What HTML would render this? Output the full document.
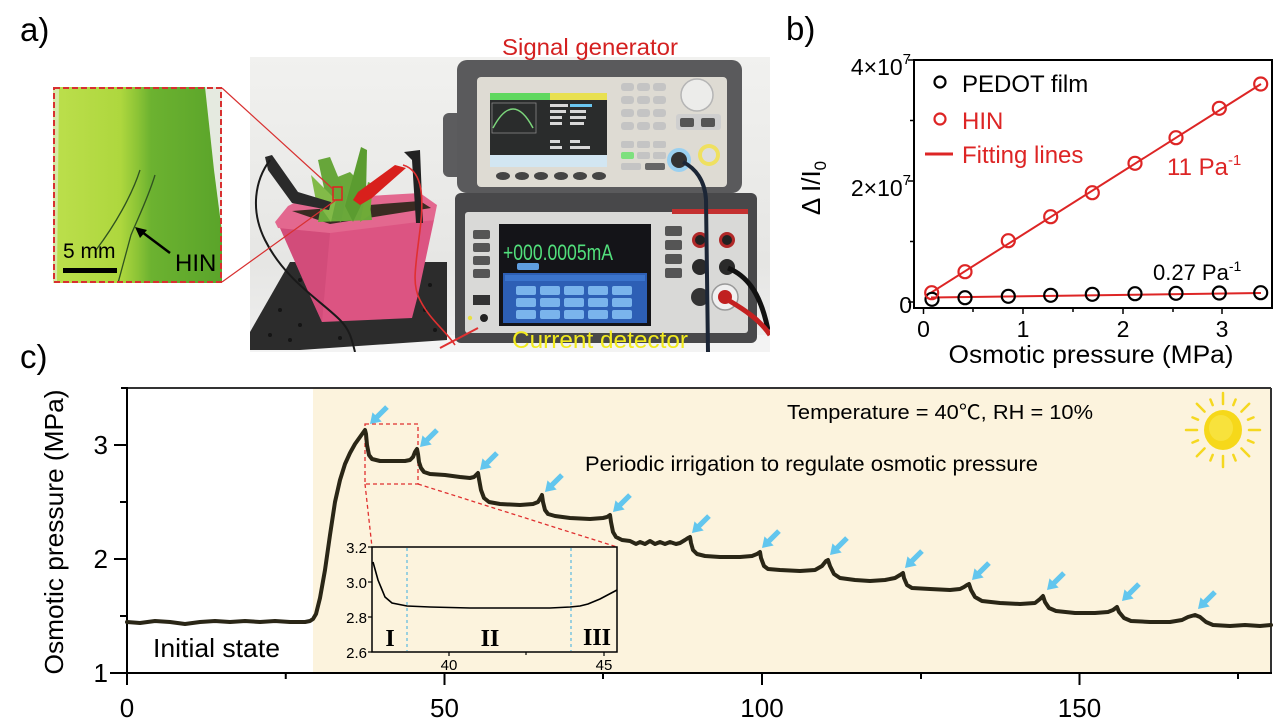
<!DOCTYPE html>
<html><head><meta charset="utf-8"><style>
html,body{margin:0;padding:0;background:#fff;}
svg{display:block;}
text{font-family:"Liberation Sans","Noto Sans CJK SC",sans-serif;}
</style></head><body>
<svg width="1285" height="728" viewBox="0 0 1285 728" xmlns="http://www.w3.org/2000/svg">
<defs>
<linearGradient id="leafg" x1="53" y1="0" x2="222" y2="0" gradientUnits="userSpaceOnUse">
<stop offset="0" stop-color="#bcdf4c"/><stop offset="0.4" stop-color="#aed73e"/><stop offset="0.5" stop-color="#8cc436"/><stop offset="0.58" stop-color="#6cb230"/><stop offset="1" stop-color="#5aa42a"/>
</linearGradient>
<linearGradient id="wallg" x1="0" y1="57" x2="0" y2="352" gradientUnits="userSpaceOnUse">
<stop offset="0" stop-color="#f1f1ef"/><stop offset="0.7" stop-color="#e6e6e4"/><stop offset="1" stop-color="#efefef"/>
</linearGradient>
<clipPath id="photoclip"><rect x="250" y="57" width="520" height="295"/></clipPath>
<clipPath id="leafclip"><rect x="53" y="87" width="169" height="196"/></clipPath>
</defs>

<!-- Panel labels -->
<text x="20" y="41" font-size="33">a)</text>
<text x="786" y="40" font-size="33">b)</text>
<text x="20" y="368" font-size="33">c)</text>

<!-- Leaf inset -->
<g clip-path="url(#leafclip)">
<rect x="53" y="87" width="169" height="196" fill="url(#leafg)"/>
<polygon points="205,87 222,87 222,232 214,170" fill="#e5eae0"/>
<polygon points="53,87 59,87 57,283 53,283" fill="#d6e9a8"/>
<path d="M140,170 C132,195 115,225 96,250" stroke="#2f5220" stroke-width="1.3" fill="none"/>
<path d="M155,175 C148,198 138,218 131,235 L118,283" stroke="#2f5220" stroke-width="1.3" fill="none"/>
</g>
<rect x="54" y="88" width="167" height="194" fill="none" stroke="#d83030" stroke-width="2" stroke-dasharray="6,3"/>
<line x1="170" y1="253" x2="142" y2="232" stroke="#000" stroke-width="2.5"/>
<polygon points="135,227 147,230 140,238" fill="#000"/>
<text x="63" y="258" font-size="21">5 mm</text>
<rect x="63" y="268" width="54" height="5" fill="#000"/>
<text x="175" y="271" font-size="24">HIN</text>

<!-- Photo -->
<g clip-path="url(#photoclip)">
<rect x="250" y="57" width="520" height="295" fill="url(#wallg)"/>
<rect x="250" y="335" width="520" height="17" fill="#f3f3f3"/>
<!-- breadboard -->
<polygon points="290,262 447,262 447,340 300,350 250,350 250,332" fill="#2c2c2c"/>
<g fill="#151515">
<circle cx="300" cy="280" r="2"/><circle cx="320" cy="295" r="2"/><circle cx="280" cy="310" r="2"/><circle cx="300" cy="325" r="2"/><circle cx="270" cy="335" r="2"/><circle cx="430" cy="285" r="2"/><circle cx="425" cy="310" r="2"/><circle cx="435" cy="330" r="2"/><circle cx="290" cy="340" r="2"/><circle cx="340" cy="338" r="2"/>
</g>
<!-- pot -->
<polygon points="280,228 434,220 418,295 412,318 322,322 312,300" fill="#dc5482"/>
<polygon points="280,228 330,233 322,322 312,300" fill="#d24c7a"/>
<polygon points="275,222 288,206 300,200 420,193 437,205 434,220 330,233 278,228" fill="#e3688f"/>
<polygon points="292,211 420,201 431,208 330,224" fill="#3a2b22"/>
<!-- leaves -->
<polygon points="318,222 372,220 368,190 350,172 325,182" fill="#6aa83a"/>
<polygon points="318,160 330,157 346,196 341,222 330,216" fill="#67a63a"/>
<polygon points="361,147 367,150 366,195 353,222 345,206" fill="#5b9c30"/>
<polygon points="311,175 336,200 331,222 316,201" fill="#82ba48"/>
<polygon points="368,182 373,184 370,215 360,222" fill="#6fab38"/>
<!-- clips / posts -->
<polygon points="404,152 420,150 423,223 416,223 412,160" fill="#222"/>
<polygon points="265,157 272,155 298,192 331,202 329,210 292,203 268,170" fill="#2a2a2a"/>
<polygon points="353,200 358,192 395,165 406,168 372,198 360,205" fill="#d8201c"/>
<rect x="333" y="187" width="9" height="13" fill="none" stroke="#e02020" stroke-width="1.5"/>
<path d="M403,165 C420,170 425,190 420,230 C415,270 412,285 420,300 C430,320 445,330 455,345" stroke="#e03030" stroke-width="1.6" fill="none"/>
<path d="M270,160 C255,180 250,210 265,240 C285,280 320,300 340,320 C350,330 352,340 355,352" stroke="#1a1a1a" stroke-width="2" fill="none"/>
<!-- signal generator -->
<rect x="443" y="113" width="20" height="64" rx="6" fill="#5c5c5e"/>
<rect x="457" y="60" width="285" height="133" rx="10" fill="#5a5a5c"/>
<rect x="477" y="77" width="250" height="110" rx="4" fill="#dedbd3"/>
<rect x="490" y="93" width="117" height="74" fill="#2a2c2c"/>
<rect x="490" y="93" width="60" height="7" fill="#5fd85f"/>
<rect x="550" y="93" width="57" height="7" fill="#e8e050"/>
<rect x="492" y="103" width="44" height="30" fill="none" stroke="#888" stroke-width="0.8"/>
<path d="M493,128 Q513,90 533,128" stroke="#7cd67c" stroke-width="1.5" fill="none"/>
<g fill="#d8d8d8"><rect x="550" y="104" width="18" height="3"/><rect x="570" y="104" width="22" height="3" fill="#6ac6f0"/><rect x="550" y="110" width="16" height="3"/><rect x="570" y="110" width="16" height="3"/><rect x="550" y="116" width="12" height="3"/><rect x="570" y="116" width="16" height="3"/><rect x="550" y="122" width="12" height="3"/><rect x="570" y="122" width="14" height="3"/><rect x="550" y="140" width="10" height="3"/><rect x="570" y="140" width="10" height="3"/><rect x="550" y="146" width="12" height="3"/><rect x="570" y="146" width="20" height="3"/></g>
<rect x="490" y="155" width="117" height="12" fill="#d2e6f2"/>
<g fill="#c4c4c4">
<rect x="621" y="83" width="13" height="8" rx="3"/><rect x="637" y="83" width="13" height="8" rx="3"/><rect x="653" y="83" width="13" height="8" rx="3"/>
<rect x="621" y="96" width="13" height="8" rx="3"/><rect x="637" y="96" width="13" height="8" rx="3"/><rect x="653" y="96" width="13" height="8" rx="3"/>
<rect x="621" y="109" width="13" height="8" rx="3"/><rect x="637" y="109" width="13" height="8" rx="3"/><rect x="653" y="109" width="13" height="8" rx="3"/>
<rect x="621" y="122" width="13" height="8" rx="3"/><rect x="637" y="122" width="13" height="8" rx="3"/><rect x="653" y="122" width="13" height="8" rx="3"/>
<rect x="621" y="141" width="13" height="7" rx="2"/><rect x="637" y="141" width="13" height="7" rx="2"/><rect x="653" y="141" width="13" height="7" rx="2"/>
<rect x="621" y="152" width="13" height="7" rx="2" fill="#7ee07e"/><rect x="637" y="152" width="13" height="7" rx="2"/><rect x="653" y="152" width="13" height="7" rx="2"/>
<rect x="621" y="163" width="20" height="7" rx="2"/><rect x="645" y="163" width="20" height="7" rx="2" fill="#666"/>
</g>
<rect x="676" y="114" width="45" height="16" rx="3" fill="#cfcfcf"/>
<rect x="680" y="118" width="14" height="9" rx="2" fill="#555"/><rect x="701" y="118" width="14" height="9" rx="2" fill="#555"/>
<circle cx="697" cy="95" r="16" fill="#ececea" stroke="#b5b5b5" stroke-width="1.5"/>
<circle cx="679" cy="160" r="12" fill="#9ad0f0"/><circle cx="679" cy="160" r="8" fill="#333"/>
<circle cx="709" cy="155" r="11" fill="#efe060"/><circle cx="709" cy="155" r="7" fill="#ddd"/>
<g fill="#454545"><ellipse cx="503" cy="176" rx="7" ry="4"/><ellipse cx="522" cy="176" rx="7" ry="4"/><ellipse cx="541" cy="176" rx="7" ry="4"/><ellipse cx="561" cy="176" rx="7" ry="4"/><ellipse cx="580" cy="176" rx="7" ry="4"/><ellipse cx="599" cy="176" rx="7" ry="4"/></g>
<!-- current detector -->
<rect x="455" y="193" width="302" height="150" rx="6" fill="#48484a"/>
<rect x="465" y="212" width="283" height="121" rx="3" fill="#d9d9d7"/>
<rect x="672" y="209" width="76" height="5" fill="#c43030"/>
<rect x="499" y="224" width="152" height="102" fill="#141418"/>
<text x="503" y="260" font-size="22" fill="#52e07c" textLength="110" lengthAdjust="spacingAndGlyphs">+000.0005mA</text>
<rect x="517" y="263" width="22" height="7" rx="2" fill="#5f9ee0"/>
<rect x="503" y="273" width="144" height="50" fill="#2d5fb5"/>
<rect x="505" y="275" width="140" height="6" fill="#3b74cc"/>
<g fill="#7ab4ec">
<rect x="516" y="286" width="20" height="9" rx="2"/><rect x="540" y="286" width="20" height="9" rx="2"/><rect x="564" y="286" width="20" height="9" rx="2"/><rect x="588" y="286" width="20" height="9" rx="2"/><rect x="612" y="286" width="20" height="9" rx="2"/>
<rect x="516" y="298" width="20" height="9" rx="2"/><rect x="540" y="298" width="20" height="9" rx="2"/><rect x="564" y="298" width="20" height="9" rx="2"/><rect x="588" y="298" width="20" height="9" rx="2"/><rect x="612" y="298" width="20" height="9" rx="2"/>
<rect x="516" y="310" width="20" height="9" rx="2"/><rect x="540" y="310" width="20" height="9" rx="2"/><rect x="564" y="310" width="20" height="9" rx="2"/><rect x="588" y="310" width="20" height="9" rx="2"/><rect x="612" y="310" width="20" height="9" rx="2"/>
</g>
<g fill="#555"><rect x="473" y="230" width="17" height="9" rx="2"/><rect x="473" y="243" width="17" height="9" rx="2"/><rect x="473" y="256" width="17" height="9" rx="2"/><rect x="473" y="269" width="17" height="9" rx="2"/>
<rect x="665" y="226" width="17" height="10" rx="2"/><rect x="665" y="240" width="17" height="10" rx="2"/><rect x="665" y="254" width="17" height="10" rx="2"/><rect x="665" y="268" width="17" height="10" rx="2"/></g>
<rect x="473" y="295" width="17" height="10" fill="#333"/>
<circle cx="484" cy="318" r="4" fill="#222"/><circle cx="470" cy="318" r="2.2" fill="#e8e040"/>
<circle cx="700" cy="240" r="8" fill="#b02828"/><circle cx="700" cy="240" r="5" fill="#222"/>
<circle cx="727" cy="240" r="8" fill="#b02828"/><circle cx="727" cy="240" r="5" fill="#222"/>
<circle cx="700" cy="267" r="8" fill="#2a2a2a"/><circle cx="727" cy="267" r="8" fill="#2a2a2a"/>
<circle cx="700" cy="297" r="9" fill="#333"/>
<circle cx="725" cy="297" r="13" fill="#f0f0f0" stroke="#999" stroke-width="1.5"/><circle cx="725" cy="297" r="7" fill="#c02020"/>
<path d="M683,162 C695,168 705,180 706,200 L708,352" stroke="#1c2636" stroke-width="4" fill="none"/>
<path d="M728,268 C745,275 760,290 768,330" stroke="#111" stroke-width="5" fill="none"/>
<path d="M728,300 C745,310 760,320 770,335" stroke="#c42020" stroke-width="5" fill="none"/>
<path d="M440,348 L478,328" stroke="#e03030" stroke-width="2" fill="none"/>
</g>
<line x1="222" y1="88" x2="334" y2="190" stroke="#d83030" stroke-width="1.2"/>
<line x1="222" y1="282" x2="336" y2="200" stroke="#d83030" stroke-width="1.2"/>
<text x="502" y="55" font-size="23" fill="#d42020" textLength="176" lengthAdjust="spacingAndGlyphs">Signal generator</text>
<text x="512" y="348" font-size="24" fill="#f2ea1e" textLength="176" lengthAdjust="spacingAndGlyphs">Current detector</text>

<!-- Panel b -->
<rect x="914" y="60" width="358" height="248" fill="none" stroke="#000" stroke-width="2"/>
<g stroke="#000" stroke-width="1.5">
<line x1="908" y1="302" x2="914" y2="302"/><line x1="908" y1="181" x2="914" y2="181"/><line x1="908" y1="60" x2="914" y2="60"/>
<line x1="910" y1="241.5" x2="914" y2="241.5"/><line x1="910" y1="120.5" x2="914" y2="120.5"/>
<line x1="923.5" y1="308" x2="923.5" y2="314"/><line x1="1023" y1="308" x2="1023" y2="314"/><line x1="1123" y1="308" x2="1123" y2="314"/><line x1="1222" y1="308" x2="1222" y2="314"/>
<line x1="973" y1="308" x2="973" y2="312"/><line x1="1073" y1="308" x2="1073" y2="312"/><line x1="1173" y1="308" x2="1173" y2="312"/>
</g>
<text x="911" y="75" font-size="23" text-anchor="end">4×10<tspan font-size="15" dy="-11">7</tspan></text>
<text x="911" y="196" font-size="23" text-anchor="end">2×10<tspan font-size="15" dy="-11">7</tspan></text>
<text x="912" y="313" font-size="23" text-anchor="end">0</text>
<g font-size="23" text-anchor="middle">
<text x="923.5" y="337">0</text><text x="1023" y="337">1</text><text x="1123" y="337">2</text><text x="1222" y="337">3</text>
</g>
<text x="1091" y="363" font-size="25" text-anchor="middle" textLength="285" lengthAdjust="spacingAndGlyphs">Osmotic pressure (MPa)</text>
<text transform="translate(820,188) rotate(-90)" font-size="26" text-anchor="middle">Δ I/I<tspan font-size="17" dy="6">0</tspan></text>
<g stroke="#dd2525" stroke-width="2" fill="none">
<line x1="931" y1="292.7" x2="1261" y2="84"/>
<line x1="931" y1="297.5" x2="1261" y2="293"/>
</g>
<g stroke="#000" stroke-width="2.2" fill="none">
<circle cx="932" cy="299.3" r="6.5"/><circle cx="965" cy="297.7" r="6.5"/><circle cx="1008.3" cy="296.3" r="6.5"/><circle cx="1050.7" cy="295.3" r="6.5"/><circle cx="1092.3" cy="294.3" r="6.5"/><circle cx="1135" cy="293.7" r="6.5"/><circle cx="1176" cy="293.3" r="6.5"/><circle cx="1219.3" cy="293" r="6.5"/><circle cx="1260.7" cy="292.7" r="6.5"/>
</g>
<g stroke="#dd2525" stroke-width="2.2" fill="none">
<circle cx="931.7" cy="292.7" r="6.5"/><circle cx="965" cy="271.7" r="6.5"/><circle cx="1008.3" cy="240.7" r="6.5"/><circle cx="1050.7" cy="216.7" r="6.5"/><circle cx="1092.3" cy="192.7" r="6.5"/><circle cx="1135" cy="163.3" r="6.5"/><circle cx="1176" cy="137.7" r="6.5"/><circle cx="1219.3" cy="108.3" r="6.5"/><circle cx="1260.7" cy="84" r="6.5"/>
</g>
<circle cx="940" cy="82" r="5.5" stroke="#000" stroke-width="2.2" fill="none"/>
<text x="962" y="92" font-size="24">PEDOT film</text>
<circle cx="940" cy="119" r="5.5" stroke="#dd2525" stroke-width="2.2" fill="none"/>
<text x="962" y="129" font-size="24" fill="#dd2525">HIN</text>
<line x1="925" y1="154" x2="953" y2="154" stroke="#dd2525" stroke-width="3"/>
<text x="962" y="163" font-size="24" fill="#dd2525">Fitting lines</text>
<text x="1167" y="175" font-size="24" fill="#dd2525">11 Pa<tspan font-size="15" dy="-10">-1</tspan></text>
<text x="1153" y="280" font-size="22">0.27 Pa<tspan font-size="14" dy="-9">-1</tspan></text>

<!-- Panel c -->
<rect x="313" y="388" width="958" height="285" fill="#fcf3dd"/>
<g stroke="#000" stroke-width="2" fill="none">
<line x1="127" y1="388" x2="1271" y2="388" stroke="#333"/>
<line x1="1271" y1="388" x2="1271" y2="673" stroke="#333"/>
<line x1="127" y1="387" x2="127" y2="674"/>
<line x1="110" y1="673" x2="1272" y2="673"/>
<line x1="114" y1="559" x2="127" y2="559"/><line x1="114" y1="445" x2="127" y2="445"/>
<line x1="120" y1="616" x2="127" y2="616"/><line x1="120" y1="502" x2="127" y2="502"/><line x1="121" y1="388" x2="127" y2="388"/>
<line x1="127" y1="673" x2="127" y2="685"/><line x1="444.5" y1="673" x2="444.5" y2="685"/><line x1="762" y1="673" x2="762" y2="685"/><line x1="1079.5" y1="673" x2="1079.5" y2="685"/>
<line x1="285.75" y1="673" x2="285.75" y2="679"/><line x1="603" y1="673" x2="603" y2="679"/><line x1="921" y1="673" x2="921" y2="679"/><line x1="1238" y1="673" x2="1238" y2="679"/>
</g>
<g font-size="26" text-anchor="end">
<text x="108" y="682">1</text><text x="108" y="568">2</text><text x="108" y="454">3</text>
</g>
<g font-size="26" text-anchor="middle">
<text x="127" y="717">0</text><text x="444.5" y="717">50</text><text x="762" y="717">100</text><text x="1079.5" y="717">150</text>
</g>
<text transform="translate(63,532) rotate(-90)" font-size="26" text-anchor="middle" textLength="285" lengthAdjust="spacingAndGlyphs">Osmotic pressure (MPa)</text>
<text x="153" y="657" font-size="26" textLength="127" lengthAdjust="spacingAndGlyphs">Initial state</text>
<text x="787" y="419" font-size="20" textLength="306" lengthAdjust="spacingAndGlyphs">Temperature = 40℃, RH = 10%</text>
<text x="585" y="471" font-size="21" textLength="453" lengthAdjust="spacingAndGlyphs">Periodic irrigation to regulate osmotic pressure</text>

<!-- sun -->
<g stroke="#f5d820" stroke-width="2.5" stroke-linecap="round">
<line x1="1249" y1="430" x2="1260" y2="430"/><line x1="1248" y1="440.3" x2="1253.5" y2="442.6"/><line x1="1241.4" y1="448.4" x2="1249.2" y2="456.2"/><line x1="1233.3" y1="454.9" x2="1235.6" y2="460.5"/>
<line x1="1223" y1="456" x2="1223" y2="467"/><line x1="1212.7" y1="454.9" x2="1210.4" y2="460.5"/><line x1="1204.6" y1="448.4" x2="1196.8" y2="456.2"/><line x1="1198" y1="440.3" x2="1192.5" y2="442.6"/>
<line x1="1197" y1="430" x2="1186" y2="430"/><line x1="1198" y1="419.7" x2="1192.5" y2="417.4"/><line x1="1204.6" y1="411.6" x2="1196.8" y2="403.8"/><line x1="1212.7" y1="405.1" x2="1210.4" y2="399.5"/>
<line x1="1223" y1="404" x2="1223" y2="393"/><line x1="1233.3" y1="405.1" x2="1235.6" y2="399.5"/><line x1="1241.4" y1="411.6" x2="1249.2" y2="403.8"/><line x1="1248" y1="419.7" x2="1253.5" y2="417.4"/>
</g>
<ellipse cx="1223" cy="430" rx="19" ry="20" fill="#f6d81a"/>
<ellipse cx="1221" cy="428" rx="12" ry="13" fill="#f8e23c"/>

<!-- red dashed zoom box -->
<g stroke="#e03030" stroke-width="1.3" stroke-dasharray="4,3" fill="none">
<rect x="365" y="424" width="53" height="60"/>
<line x1="365" y1="484" x2="372" y2="547"/>
<line x1="418" y1="484" x2="617" y2="547"/>
</g>

<!-- main curve -->
<polyline fill="none" stroke="#2a2616" stroke-width="4" stroke-linejoin="round" stroke-linecap="round" points="
127,622 140,623 155,621 170,622 185,624 200,622 215,621 230,622 245,621 260,622 275,621 290,622 305,622 310,621 313,619
316,614 320,598 325,570 330,535 335,502 340,480 345,464 350,453 355,444 360,437 365,430
366,434 367,445 369,455 372,459 380,461 395,461 405,461 410,460 413,457 415,452 417,449
418,454 419,462 421,468 424,472 430,474 445,475 460,477 470,478 474,477 477,474 478,473
479,479 481,490 484,498 489,502 500,504 520,505 533,504 538,502 541,497 542,495
543,502 545,510 548,514 555,516 570,518 590,519 603,518 607,517 610,515
611,522 613,532 616,537 622,540 630,541 636,544 640,542 645,544 650,541 655,544 660,542 665,544 670,542 676,544 680,543 685,540 688,538 690,537
691,543 693,550 697,554 705,556 720,557 740,557 752,556 757,554 760,552
761,558 764,566 768,569 780,570 800,571 815,570 822,566 826,561 828,560
830,566 834,574 840,578 855,580 870,581 885,580 895,578 900,575 903,573
904,578 907,585 912,588 930,589 950,590 960,589 964,587 967,585 969,584
971,590 975,597 982,601 1000,603 1020,604 1035,603 1040,599 1043,596
1045,602 1049,608 1056,611 1075,613 1095,613 1108,612 1113,610 1117,607
1119,612 1124,618 1131,621 1150,622 1170,622 1182,620 1188,617 1195,615
1200,617 1206,622 1213,625 1230,626 1245,625 1260,626 1271,625"/>

<!-- blue arrows -->
<g fill="#62c6ee">
<path transform="translate(370,424) rotate(135)" d="M0,0 L-10,-6.5 L-10,6.5 Z M-9,-2.6 L-24,-2.6 L-24,2.6 L-9,2.6 Z"/>
<path transform="translate(420,447) rotate(135)" d="M0,0 L-10,-6.5 L-10,6.5 Z M-9,-2.6 L-24,-2.6 L-24,2.6 L-9,2.6 Z"/>
<path transform="translate(480,470) rotate(135)" d="M0,0 L-10,-6.5 L-10,6.5 Z M-9,-2.6 L-24,-2.6 L-24,2.6 L-9,2.6 Z"/>
<path transform="translate(545,492) rotate(135)" d="M0,0 L-10,-6.5 L-10,6.5 Z M-9,-2.6 L-24,-2.6 L-24,2.6 L-9,2.6 Z"/>
<path transform="translate(613,512) rotate(135)" d="M0,0 L-10,-6.5 L-10,6.5 Z M-9,-2.6 L-24,-2.6 L-24,2.6 L-9,2.6 Z"/>
<path transform="translate(692,533) rotate(135)" d="M0,0 L-10,-6.5 L-10,6.5 Z M-9,-2.6 L-24,-2.6 L-24,2.6 L-9,2.6 Z"/>
<path transform="translate(762,548) rotate(135)" d="M0,0 L-10,-6.5 L-10,6.5 Z M-9,-2.6 L-24,-2.6 L-24,2.6 L-9,2.6 Z"/>
<path transform="translate(830,555) rotate(135)" d="M0,0 L-10,-6.5 L-10,6.5 Z M-9,-2.6 L-24,-2.6 L-24,2.6 L-9,2.6 Z"/>
<path transform="translate(905,568) rotate(135)" d="M0,0 L-10,-6.5 L-10,6.5 Z M-9,-2.6 L-24,-2.6 L-24,2.6 L-9,2.6 Z"/>
<path transform="translate(972,580) rotate(135)" d="M0,0 L-10,-6.5 L-10,6.5 Z M-9,-2.6 L-24,-2.6 L-24,2.6 L-9,2.6 Z"/>
<path transform="translate(1047,590) rotate(135)" d="M0,0 L-10,-6.5 L-10,6.5 Z M-9,-2.6 L-24,-2.6 L-24,2.6 L-9,2.6 Z"/>
<path transform="translate(1122,601) rotate(135)" d="M0,0 L-10,-6.5 L-10,6.5 Z M-9,-2.6 L-24,-2.6 L-24,2.6 L-9,2.6 Z"/>
<path transform="translate(1198,609) rotate(135)" d="M0,0 L-10,-6.5 L-10,6.5 Z M-9,-2.6 L-24,-2.6 L-24,2.6 L-9,2.6 Z"/>
</g>

<!-- inset -->
<rect x="372" y="547" width="245" height="105" fill="#fcf3dd" stroke="#000" stroke-width="1.5"/>
<g stroke="#5bb8e0" stroke-width="1.2" stroke-dasharray="3,3">
<line x1="407" y1="548" x2="407" y2="651"/><line x1="571" y1="548" x2="571" y2="651"/>
</g>
<polyline fill="none" stroke="#000" stroke-width="1.6" points="373,562 378,580 385,597 392,603 407,606 430,607 470,608 517,608 550,608 570,607 580,606 588,604 600,599 617,590"/>
<g stroke="#000" stroke-width="1.2">
<line x1="368" y1="547" x2="372" y2="547"/><line x1="368" y1="582" x2="372" y2="582"/><line x1="368" y1="617" x2="372" y2="617"/><line x1="368" y1="652" x2="372" y2="652"/>
<line x1="449" y1="652" x2="449" y2="656"/><line x1="604" y1="652" x2="604" y2="656"/><line x1="526" y1="652" x2="526" y2="655"/>
</g>
<g font-size="15" text-anchor="end">
<text x="367" y="553">3.2</text><text x="367" y="588">3.0</text><text x="367" y="623">2.8</text><text x="367" y="658">2.6</text>
</g>
<g font-size="15" text-anchor="middle">
<text x="449" y="670">40</text><text x="604" y="670">45</text>
</g>
<g font-weight="bold" font-size="24" text-anchor="middle">
<text x="390" y="646" style="font-family:'Liberation Serif',serif">I</text>
<text x="490" y="646" style="font-family:'Liberation Serif',serif">II</text>
<text x="597" y="645" style="font-family:'Liberation Serif',serif">III</text>
</g>
</svg>
</body></html>
